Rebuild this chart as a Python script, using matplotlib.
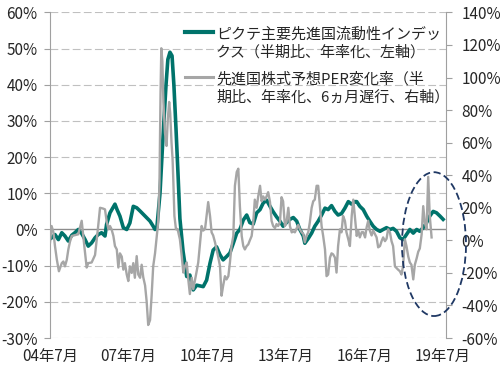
import matplotlib
matplotlib.use('Agg')
import matplotlib.pyplot as plt
from matplotlib.patches import Ellipse
from matplotlib.lines import Line2D

plt.rcParams['font.family'] = ['Noto Sans CJK JP', 'DejaVu Sans']

# ピクテ主要先進国流動性インデックス（左軸, %）
liq_t = [2004.56, 2004.69, 2004.82, 2004.95, 2005.07, 2005.20, 2005.33, 2005.45, 2005.58, 2005.71,
         2005.84, 2005.96, 2006.09, 2006.22, 2006.34, 2006.47, 2006.60, 2006.66, 2006.79, 2006.98,
         2007.06, 2007.17, 2007.30, 2007.43, 2007.55, 2007.68, 2007.81, 2007.94, 2008.13, 2008.32,
         2008.44, 2008.51, 2008.58, 2008.70, 2008.81, 2008.93, 2009.00, 2009.08, 2009.16, 2009.23,
         2009.31, 2009.39, 2009.46, 2009.58, 2009.72, 2009.84, 2009.97, 2010.10, 2010.35, 2010.48,
         2010.61, 2010.73, 2010.86, 2010.99, 2011.11, 2011.24, 2011.37, 2011.50, 2011.63, 2011.75,
         2011.88, 2012.01, 2012.13, 2012.26, 2012.39, 2012.52, 2012.64, 2012.77, 2012.90, 2013.02,
         2013.15, 2013.28, 2013.40, 2013.53, 2013.66, 2013.79, 2013.92, 2014.04, 2014.17, 2014.23,
         2014.36, 2014.49, 2014.61, 2014.74, 2014.87, 2015.00, 2015.12, 2015.25, 2015.38, 2015.50,
         2015.63, 2015.76, 2015.89, 2016.02, 2016.14, 2016.21, 2016.33, 2016.46, 2016.59, 2016.71,
         2016.84, 2016.97, 2017.10, 2017.22, 2017.35, 2017.48, 2017.60, 2017.73, 2017.86, 2017.98,
         2018.11, 2018.24, 2018.37, 2018.50, 2018.62, 2018.75, 2018.88, 2019.00, 2019.13, 2019.26,
         2019.39, 2019.51]
liq_v = [-2.3, -1.4, -2.8, -0.9, -1.8, -3.2, -1.6, -0.9, 0.0, -1.1,
         -2.8, -4.6, -3.7, -2.3, -1.4, -0.9, -1.8, 1.4, 4.6, 7.0,
         5.5, 3.7, 0.5, 0.0, 1.8, 6.4, 6.0, 5.1, 3.7, 2.3,
         0.9, 0.0, 0.5, 10.0, 25.0, 40.0, 47.0, 49.0, 48.0, 40.0,
         28.0, 15.0, 3.0, -6.0, -13.0, -12.6, -16.7, -15.4, -15.8, -14.0,
         -9.3, -5.7, -4.8, -7.0, -8.4, -7.5, -6.5, -3.8, -1.0, 0.0,
         2.6, 4.0, 1.9, 1.5, 4.6, 5.5, 7.3, 8.1, 6.4, 4.9,
         3.5, 2.3, 0.9, 1.9, 2.8, 3.3, 2.3, 0.0, -1.8, -3.8,
         -2.5, -1.0, 0.9, 2.3, 4.0, 5.9, 5.5, 6.6, 5.0, 4.0,
         4.4, 5.9, 7.7, 7.0, 7.7, 7.7, 6.4, 5.5, 3.7, 2.3,
         0.9, 0.0, -0.5, 0.0, 0.5, 0.0, 0.3, -0.5, -2.3, -2.8,
         -1.4, 0.0, -1.0, 0.0, -0.5, 0.5, 1.9, 3.7, 5.0, 4.6,
         3.7, 2.8]

# 先進国株式予想PER変化率（右軸, %）
per_t = [2004.50, 2004.56, 2004.63, 2004.69, 2004.76, 2004.84, 2004.95, 2005.01, 2005.07, 2005.14,
         2005.20, 2005.26, 2005.33, 2005.45, 2005.58, 2005.71, 2005.81, 2005.90, 2005.96, 2006.09,
         2006.22, 2006.34, 2006.41, 2006.53, 2006.60, 2006.66, 2006.73, 2006.79, 2006.85, 2006.92,
         2006.98, 2007.05, 2007.11, 2007.17, 2007.24, 2007.30, 2007.36, 2007.43, 2007.49, 2007.55,
         2007.62, 2007.68, 2007.74, 2007.81, 2007.87, 2007.94, 2008.00, 2008.06, 2008.13, 2008.19,
         2008.25, 2008.32, 2008.38, 2008.44, 2008.51, 2008.58, 2008.63, 2008.68, 2008.72, 2008.75,
         2008.79, 2008.83, 2008.89, 2008.95, 2009.00, 2009.05, 2009.09, 2009.14, 2009.18, 2009.21,
         2009.25, 2009.31, 2009.37, 2009.46, 2009.53, 2009.59, 2009.65, 2009.72, 2009.78, 2009.84,
         2009.91, 2009.97, 2010.03, 2010.10, 2010.16, 2010.23, 2010.29, 2010.35, 2010.42, 2010.48,
         2010.54, 2010.61, 2010.67, 2010.73, 2010.80, 2010.86, 2010.92, 2010.99, 2011.05, 2011.11,
         2011.18, 2011.24, 2011.31, 2011.37, 2011.43, 2011.50, 2011.56, 2011.63, 2011.69, 2011.75,
         2011.82, 2011.88, 2011.94, 2012.01, 2012.07, 2012.13, 2012.20, 2012.26, 2012.32, 2012.39,
         2012.45, 2012.52, 2012.58, 2012.64, 2012.71, 2012.77, 2012.83, 2012.90, 2012.96, 2013.02,
         2013.09, 2013.15, 2013.21, 2013.28, 2013.34, 2013.40, 2013.47, 2013.53, 2013.60, 2013.66,
         2013.73, 2013.79, 2013.85, 2013.92, 2013.98, 2014.04, 2014.11, 2014.17, 2014.23, 2014.30,
         2014.36, 2014.42, 2014.49, 2014.55, 2014.61, 2014.68, 2014.74, 2014.81, 2014.87, 2014.93,
         2015.00, 2015.06, 2015.12, 2015.19, 2015.25, 2015.31, 2015.38, 2015.44, 2015.50, 2015.57,
         2015.63, 2015.69, 2015.76, 2015.82, 2015.89, 2015.95, 2016.02, 2016.08, 2016.14, 2016.21,
         2016.27, 2016.33, 2016.40, 2016.46, 2016.53, 2016.59, 2016.65, 2016.71, 2016.78, 2016.84,
         2016.90, 2016.97, 2017.03, 2017.10, 2017.16, 2017.22, 2017.29, 2017.35, 2017.41, 2017.48,
         2017.54, 2017.60, 2017.67, 2017.73, 2017.79, 2017.86, 2017.92, 2017.98, 2018.05, 2018.11,
         2018.18, 2018.24, 2018.30, 2018.37, 2018.43, 2018.50, 2018.56, 2018.62, 2018.69, 2018.75,
         2018.81, 2018.88, 2018.94, 2019.00, 2019.07]
per_v = [-1.4, 8.8, 5.0, -3.5, -11.7, -19.0, -14.0, -13.0, -16.0, -12.0,
         -5.6, -1.0, 2.7, 3.2, 3.7, 12.0, -3.5, -16.7, -14.0, -13.6,
         -9.0, 8.8, 20.0, 19.5, 19.0, 12.0, 6.8, 8.8, 6.8, 2.7,
         -3.5, -5.6, -16.7, -8.0, -10.0, -18.0, -14.0, -21.0, -25.0, -16.0,
         -20.0, -14.0, -23.0, -9.7, -21.0, -23.0, -15.0, -22.6, -27.7, -37.5,
         -52.0, -49.0, -34.0, -16.0, -8.0, 3.0, 11.0, 35.0, 90.0, 118.0,
         110.0, 85.0, 66.0, 58.0, 75.0, 85.0, 78.0, 60.0, 50.0, 36.0,
         15.0, 6.8, 7.0, 0.6, -9.7, -19.8, -16.0, -13.6, -24.0, -33.0,
         -23.0, -30.0, -25.0, -19.0, -13.6, -1.2, 8.8, 6.0, 7.0, 15.0,
         23.5, 15.0, 4.9, 3.0, -1.2, -5.6, -10.0, -15.8, -34.0, -28.0,
         -22.0, -24.0, -22.0, -13.6, -3.5, 2.7, 33.5, 42.0, 44.0, 21.0,
         2.7, -3.5, -5.6, -3.5, -2.5, 0.0, 2.7, 11.0, 25.0, 20.0,
         27.0, 33.5, 24.0, 27.0, 25.0, 27.0, 29.6, 23.5, 12.0, 8.8,
         7.5, 10.0, 8.8, 11.0, 26.5, 24.0, 8.8, 11.0, 20.0, 8.8,
         4.9, 5.5, 4.9, 7.5, 9.5, 6.8, 4.9, 4.0, -1.2, 3.0,
         4.9, 11.0, 20.0, 24.0, 25.0, 33.5, 33.5, 20.0, 8.8, 2.7,
         -5.6, -22.0, -21.0, -10.6, -8.0, -8.6, -10.6, -19.8, -3.5, 6.8,
         4.9, 15.0, 12.0, 4.9, 0.6, -3.5, 15.0, 25.0, 15.0, 2.7,
         6.0, 1.8, 5.0, 5.0, 1.8, 8.0, 12.0, 6.0, 3.0, 6.0,
         4.0, 1.8, -4.3, -3.5, -0.5, 1.8, -0.5, 1.0, 6.8, 4.9,
         -0.5, -3.5, -16.0, -17.0, -18.0, -19.0, -21.0, -16.0, 0.6, -3.5,
         -10.0, -13.6, -15.0, -24.0, -15.0, -11.0, -7.0, -5.0, 3.7, 21.0,
         11.0, 6.8, 39.0, 15.0, 1.8]

x_ticks = [2004.5, 2007.5, 2010.5, 2013.5, 2016.5, 2019.5]
x_labels = ['04年7月', '07年7月', '10年7月', '13年7月', '16年7月', '19年7月']
left_ticks = [-30, -20, -10, 0, 10, 20, 30, 40, 50, 60]
right_ticks = [-60, -40, -20, 0, 20, 40, 60, 80, 100, 120, 140]

liq_label = 'ピクテ主要先進国流動性インデッ\nクス（半期比、年率化、左軸）'
per_label = '先進国株式予想PER変化率（半\n期比、年率化、6ヵ月遅行、右軸）'

green = '#00736b'
grey = '#a6a6a6'
spine_c = '#a0a0a0'
txt_c = '#262626'

fig = plt.figure(figsize=(5, 3.66), dpi=100)
ax = fig.add_axes([0.1, 0.0765, 0.792, 0.8895])
ax2 = ax.twinx()

for v in left_ticks:
    if v == 0:
        ax.axhline(v, color='#8c8c8c', lw=1.0, zorder=1)
    else:
        ax.axhline(v, color='#c0c0c0', lw=0.8, ls=(0, (7, 3)), zorder=1)

ax.plot(liq_t, liq_v, color=green, lw=2.6, solid_joinstyle='round', zorder=3)
ax2.plot(per_t, per_v, color=grey, lw=1.7, solid_joinstyle='round', zorder=3)

ax.set_xlim(2004.5, 2019.62)
ax.set_ylim(-30, 60)
ax2.set_ylim(-60, 140)

ax.set_xticks(x_ticks)
ax.set_xticklabels(x_labels)
ax.set_yticks(left_ticks)
ax.set_yticklabels([f'{v}%' for v in left_ticks])
ax2.set_yticks(right_ticks)
ax2.set_yticklabels([f'{v}%' for v in right_ticks])

for a in (ax, ax2):
    for s in a.spines.values():
        s.set_visible(False)
ax.spines['left'].set_visible(True)
ax.spines['left'].set_color(spine_c)
ax2.spines['right'].set_visible(True)
ax2.spines['right'].set_color(spine_c)

ax.tick_params(axis='x', length=0, pad=7, labelsize=11, colors=txt_c)
ax.tick_params(axis='y', length=4, width=0.8, color=spine_c, pad=5, labelsize=11, labelcolor=txt_c)
ax2.tick_params(axis='y', length=4, width=0.8, color=spine_c, pad=7, labelsize=11, labelcolor=txt_c)

# 凡例（線は各ラベルの1行目に揃える）
for (label, col, lw, y_line) in [(liq_label, green, 3.0, 0.9126),
                                 (per_label, grey, 2.2, 0.7896)]:
    fig.add_artist(Line2D([0.37, 0.426], [y_line, y_line], transform=fig.transFigure,
                          color=col, lw=lw))
    fig.text(0.432, y_line - 0.067, label, fontsize=10.8, color=txt_c,
             ha='left', va='baseline', linespacing=1.33)

# 直近の変化を囲む破線の楕円
ell = Ellipse((0.868, 0.333), 0.128, 0.393, transform=fig.transFigure,
              fill=False, ec='#1f3864', lw=1.3, ls=(0, (4, 2)))
fig.add_artist(ell)

fig.savefig('out.png', dpi=100)
